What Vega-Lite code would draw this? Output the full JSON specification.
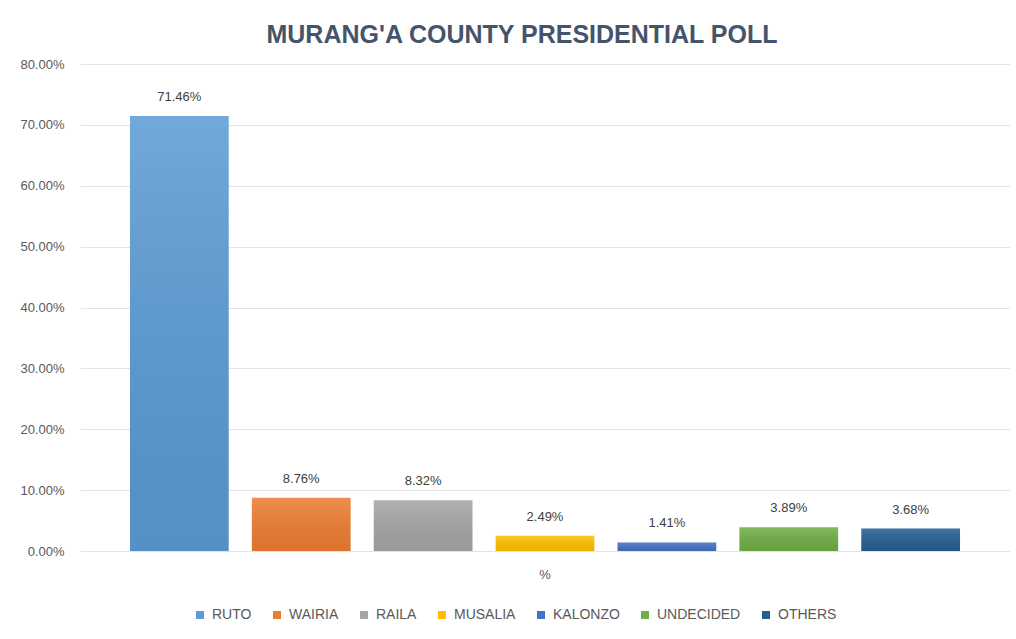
{
  "$schema": "https://vega.github.io/schema/vega-lite/v6.json",
  "width": 930,
  "height": 487,
  "autosize": {"type": "none"},
  "padding": {"left": 80, "top": 64, "right": 6, "bottom": 88},
  "background": "white",
  "title": {
    "text": "MURANG'A COUNTY PRESIDENTIAL POLL",
    "font": "Liberation Sans",
    "fontSize": 25,
    "fontWeight": "bold",
    "color": "#44546A",
    "anchor": "middle",
    "dx": -23,
    "offset": 10
  },
  "data": {
    "values": [
      {"group": "%", "candidate": "RUTO", "share": 0.7146},
      {"group": "%", "candidate": "WAIRIA", "share": 0.0876},
      {"group": "%", "candidate": "RAILA", "share": 0.0832},
      {"group": "%", "candidate": "MUSALIA", "share": 0.0249},
      {"group": "%", "candidate": "KALONZO", "share": 0.0141},
      {"group": "%", "candidate": "UNDECIDED", "share": 0.0389},
      {"group": "%", "candidate": "OTHERS", "share": 0.0368}
    ]
  },
  "encoding": {
    "x": {
      "field": "group",
      "type": "nominal",
      "scale": {"paddingInner": 0, "paddingOuter": 0},
      "axis": {
        "title": null,
        "labelAngle": 0,
        "ticks": false,
        "domain": false,
        "labelPadding": 17,
        "labelFont": "Liberation Sans",
        "labelFontSize": 13,
        "labelColor": "#595959"
      }
    },
    "xOffset": {
      "field": "candidate",
      "type": "nominal",
      "sort": ["RUTO", "WAIRIA", "RAILA", "MUSALIA", "KALONZO", "UNDECIDED", "OTHERS"],
      "scale": {"paddingInner": 0.19, "paddingOuter": 0.41}
    },
    "y": {
      "field": "share",
      "type": "quantitative",
      "scale": {"domain": [0, 0.8]},
      "axis": {
        "title": null,
        "format": ".2%",
        "values": [0, 0.1, 0.2, 0.3, 0.4, 0.5, 0.6, 0.7, 0.8],
        "ticks": false,
        "domain": false,
        "labelPadding": 16,
        "labelFont": "Liberation Sans",
        "labelFontSize": 13,
        "labelColor": "#595959",
        "gridColor": "#E3E3E3",
        "gridWidth": 1
      }
    }
  },
  "layer": [
    {
      "mark": {"type": "bar"},
      "encoding": {
        "color": {
          "field": "candidate",
          "type": "nominal",
          "sort": ["RUTO", "WAIRIA", "RAILA", "MUSALIA", "KALONZO", "UNDECIDED", "OTHERS"],
          "scale": {
            "domain": ["RUTO", "WAIRIA", "RAILA", "MUSALIA", "KALONZO", "UNDECIDED", "OTHERS"],
            "range": ["#5B9BD5", "#ED7D31", "#A5A5A5", "#FFC000", "#4472C4", "#70AD47", "#255E91"]
          },
          "legend": {
            "title": null,
            "orient": "none",
            "legendX": 113,
            "legendY": 544,
            "direction": "horizontal",
            "symbolType": "square",
            "symbolSize": 64,
            "symbolStrokeWidth": 0,
            "labelFont": "Liberation Sans",
            "labelFontSize": 14,
            "labelColor": "#595959",
            "columnPadding": 18,
            "labelOffset": 5
          }
        }
      }
    },
    {
      "mark": {
        "type": "bar",
        "color": {
          "gradient": "linear",
          "x1": 0, "y1": 0, "x2": 0, "y2": 1,
          "stops": [
            {"offset": 0, "color": "rgba(255,255,255,0.14)"},
            {"offset": 1, "color": "rgba(0,0,0,0.07)"}
          ]
        }
      }
    },
    {
      "mark": {
        "type": "text",
        "dy": -12,
        "baseline": "bottom",
        "font": "Liberation Sans",
        "fontSize": 13,
        "color": "#404040"
      },
      "encoding": {
        "text": {"field": "share", "type": "quantitative", "format": ".2%"}
      }
    }
  ],
  "config": {
    "view": {"stroke": null}
  }
}
